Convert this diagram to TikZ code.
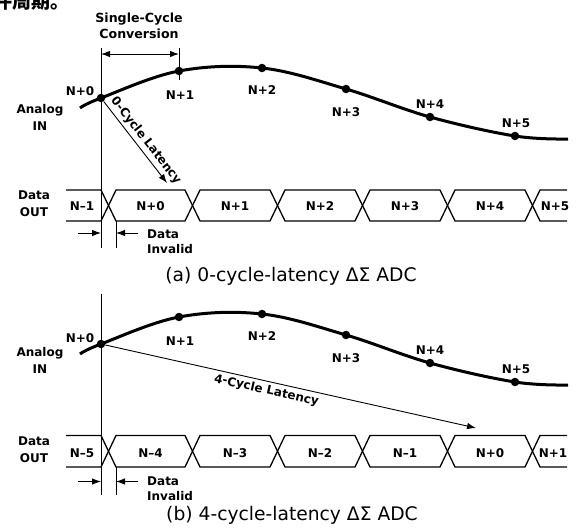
\documentclass[tikz,border=0pt]{standalone}
\usepackage{fontspec}
\setmainfont{DejaVu Sans}
\newfontfamily\cjkfont{Noto Sans CJK SC}
\usetikzlibrary{arrows.meta}
\tikzset{
 lbl/.style={font=\bfseries\fontsize{12}{14}\selectfont, inner sep=0pt},
 ttl/.style={font=\bfseries\fontsize{12.6}{14}\selectfont, inner sep=0pt},
 capt/.style={font=\fontsize{18.7}{20}\selectfont, inner sep=0pt},
 cjkt/.style={font=\cjkfont\bfseries\fontsize{19}{21}\selectfont, inner sep=0pt},
 sig/.style={line width=3pt},
 dot/.style={circle, fill=black, inner sep=0pt, minimum size=8.5pt},
 guide/.style={line width=0.9pt},
 bus/.style={line width=1.3pt, line join=miter},
 arr/.style={line width=0.9pt, -{Latex[length=9pt,width=6.5pt]}},
 dbl/.style={line width=0.9pt, {Latex[length=9pt,width=6.5pt]}-{Latex[length=9pt,width=6.5pt]}},
}
\newcommand\mybus[2]{%
 \draw[bus] (66,#1) -- (101,#1) -- (116,#2) -- (185,#2) -- (200,#1) -- (270,#1) -- (285,#2) -- (355,#2) -- (370,#1) -- (440,#1) -- (455,#2) -- (525,#2) -- (540,#1) -- (567,#1);
 \draw[bus] (66,#2) -- (101,#2) -- (116,#1) -- (185,#1) -- (200,#2) -- (270,#2) -- (285,#1) -- (355,#1) -- (370,#2) -- (440,#2) -- (455,#1) -- (525,#1) -- (540,#2) -- (567,#2);
}
\newcommand\mycurve{%
 \draw[sig] plot[smooth, tension=0.6] coordinates {(80,108) (101,98) (179,71) (262,68) (346,89) (430,117) (515,136) (568,139)};
}
\begin{document}
\begin{tikzpicture}[x=1pt,y=-1pt]
\useasboundingbox (0,0) rectangle (580,530);
\clip (0,0) rectangle (580,530);
\fill[white] (0,0) rectangle (580,530);
\node[cjkt, anchor=base west] (cn) at (-7,9) {件周期。};

% ---------------- panel (a)
\coordinate (av1) at (101,48); \coordinate (av2) at (101,248);
\draw[guide] (av1) -- (av2);
\coordinate (aw1) at (116,221); \coordinate (aw2) at (116,248);
\draw[guide] (aw1) -- (aw2);
\coordinate (at1) at (179,48); \coordinate (at2) at (179,80);
\draw[guide] (at1) -- (at2);
\coordinate (as1) at (101,54); \coordinate (as2) at (179,54);
\draw[dbl] (as1) -- (as2);
\node[ttl, anchor=base] (asc1) at (139,22) {Single-Cycle};
\node[ttl, anchor=base] (asc2) at (139,38.5) {Conversion};
\mycurve
\foreach \n/\x/\y in {0/101/98,1/179/71,2/262/68,3/346/89,4/430/117,5/515/136}
  \node[dot] (ad\n) at (\x,\y) {};
\foreach \n/\x/\y in {0/80/95,1/180/99.5,2/262/94,3/346/116,4/430/108.5,5/516/127.5}
  \node[lbl, anchor=base] (adl\n) at (\x,\y) {N+\n};
\node[lbl, anchor=base] (aan1) at (40,113) {Analog};
\node[lbl, anchor=base] (aan2) at (40,130) {IN};
\coordinate (alt) at (167,183);
\draw[arr] (ad0) -- (alt) node[lbl, sloped, above=3pt, pos=0.55] (all) {0-Cycle Latency};
\mybus{190}{221}
\node[lbl, anchor=base] (ado1) at (34,199.5) {Data};
\node[lbl, anchor=base] (ado2) at (34,216.5) {OUT};
\foreach \t/\x [count=\i] in {N–1/82, N+0/150.5, N+1/235, N+2/320, N+3/405, N+4/490, N+5/555}
  \node[lbl, anchor=base] (ab\i) at (\x,210.5) {\t};
\coordinate (ai1) at (78,233); \coordinate (ai2) at (101,233);
\draw[arr] (ai1) -- (ai2);
\coordinate (ai3) at (138,233); \coordinate (ai4) at (116,233);
\draw[arr] (ai3) -- (ai4);
\node[lbl, anchor=base west] (adi1) at (147,238) {Data};
\node[lbl, anchor=base west] (adi2) at (147,253) {Invalid};
\node[capt, anchor=base] (acap) at (291,281) {(a) 0-cycle-latency ΔΣ ADC};

% ---------------- panel (b)
\begin{scope}[shift={(0,246)}]
\coordinate (bv1) at (101,48); \coordinate (bv2) at (101,249);
\draw[guide] (bv1) -- (bv2);
\coordinate (bw1) at (116,221); \coordinate (bw2) at (116,249);
\draw[guide] (bw1) -- (bw2);
\mycurve
\foreach \n/\x/\y in {0/101/98,1/179/71,2/262/68,3/346/89,4/430/117,5/515/136}
  \node[dot] (bd\n) at (\x,\y) {};
\foreach \n/\x/\y in {0/80/96.5,1/180/99.5,2/262/94.5,3/346/116,4/430/108.5,5/516/127.5}
  \node[lbl, anchor=base] (bdl\n) at (\x,\y) {N+\n};
\node[lbl, anchor=base] (ban1) at (40,110.5) {Analog};
\node[lbl, anchor=base] (ban2) at (40,127) {IN};
\coordinate (blt) at (476,182);
\draw[arr] (bd0) -- (blt) node[lbl, sloped, below=3pt, pos=0.44] (bll) {4-Cycle Latency};
\mybus{189.5}{221}
\node[lbl, anchor=base] (bdo1) at (34,199.5) {Data};
\node[lbl, anchor=base] (bdo2) at (34,216.5) {OUT};
\foreach \t/\x [count=\i] in {N–5/82, N–4/150.5, N–3/235, N–2/320, N–1/405, N+0/490, N+1/553}
  \node[lbl, anchor=base] (bb\i) at (\x,211) {\t};
\coordinate (bi1) at (78,235.5); \coordinate (bi2) at (101,235.5);
\draw[arr] (bi1) -- (bi2);
\coordinate (bi3) at (138,235.5); \coordinate (bi4) at (116,235.5);
\draw[arr] (bi3) -- (bi4);
\node[lbl, anchor=base west] (bdi1) at (147,239) {Data};
\node[lbl, anchor=base west] (bdi2) at (147,254) {Invalid};
\end{scope}
\node[capt, anchor=base] (bcap) at (292,520) {(b) 4-cycle-latency ΔΣ ADC};
\end{tikzpicture}
\end{document}
